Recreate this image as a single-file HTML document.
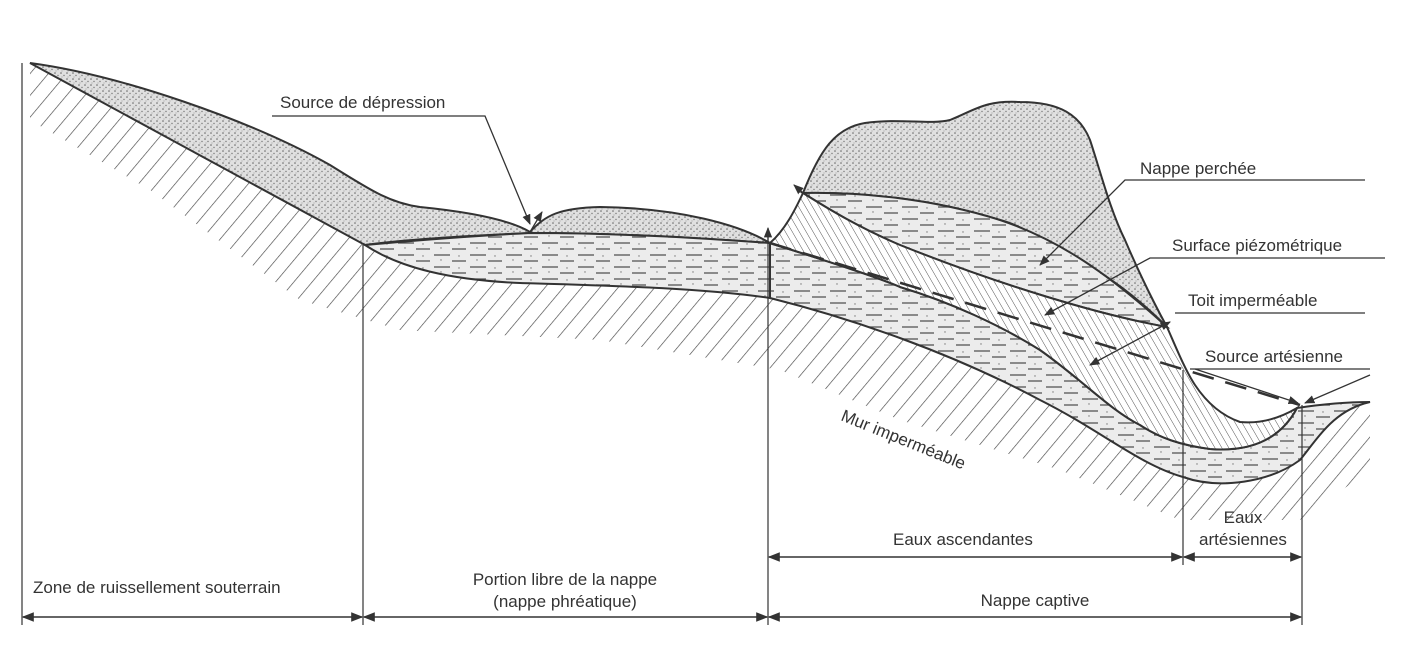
<!DOCTYPE html>
<html><head><meta charset="utf-8"><style>
html,body{margin:0;padding:0;background:#fff}
svg{display:block}
text{font-family:"Liberation Sans",sans-serif;fill:#333;font-size:17px}
</style></head><body>
<svg width="1401" height="647" viewBox="0 0 1401 647" xmlns="http://www.w3.org/2000/svg">
<defs>
<pattern id="st" width="6" height="6" patternUnits="userSpaceOnUse">
<rect width="6" height="6" fill="#e0e0e0"/>
<circle cx="1" cy="1" r="0.8" fill="#666"/><circle cx="4" cy="3.5" r="0.7" fill="#777"/><circle cx="2" cy="5" r="0.5" fill="#888"/>
</pattern>
<pattern id="wa" width="36" height="12" patternUnits="userSpaceOnUse">
<rect width="36" height="12" fill="#ececec"/>
<line x1="2" y1="3" x2="18" y2="3" stroke="#555" stroke-width="1.3"/>
<line x1="20" y1="9" x2="34" y2="9" stroke="#555" stroke-width="1.3"/>
<circle cx="27" cy="4" r="0.7" fill="#777"/><circle cx="9" cy="8" r="0.7" fill="#777"/>
</pattern>
<pattern id="hb" width="6" height="6" patternUnits="userSpaceOnUse" patternTransform="rotate(-30)">
<rect width="6" height="6" fill="#fff"/>
<line x1="0" y1="0" x2="0" y2="6" stroke="#555" stroke-width="1"/>
</pattern>
<pattern id="hg" width="14" height="14" patternUnits="userSpaceOnUse" patternTransform="rotate(40)">
<line x1="0" y1="0" x2="0" y2="14" stroke="#444" stroke-width="1.3"/>
</pattern>
<marker id="ar" viewBox="0 0 10 10" refX="9" refY="5" markerWidth="8" markerHeight="8" orient="auto-start-reverse">
<path d="M0,1 L10,5 L0,9 z" fill="#333"/></marker>
</defs>

<!-- hatched ground below mur -->
<path d="M30,63 L365,245 C400,268 450,280 520,283 C620,286 700,288 770,298 C850,318 950,352 1040,400 C1100,430 1140,465 1183,477 C1220,490 1270,482 1300,460 C1320,435 1335,410 1370,403 L1370,470 L1300,520 L1180,520 L1060,470 L900,420 L780,370 L600,340 L400,330 L300,300 L150,190 L30,120 Z" fill="url(#hg)"/>

<!-- top stipple left -->
<path d="M30,63 C120,75 250,120 330,165 C370,190 390,203 420,207 C470,212 510,220 530,232 C545,215 560,208 600,207 C680,208 740,225 770,243 C700,238 620,233 530,233 C460,236 400,240 365,245 Z" fill="url(#st)" stroke="#333" stroke-width="2"/>
<!-- free water -->
<path d="M365,245 C420,240 470,236 530,233 C620,233 700,238 770,243 L770,298 C700,288 620,286 520,283 C450,280 400,268 365,245 Z" fill="url(#wa)" stroke="#333" stroke-width="2"/>

<!-- hill stipple -->
<path d="M803,193 C820,150 835,128 865,123 C900,118 930,125 950,120 C975,110 985,100 1020,102 C1060,102 1080,115 1090,140 C1100,170 1110,210 1125,240 C1140,275 1155,305 1167,327 C1140,300 1110,275 1060,250 C1040,238 1020,225 1000,220 C930,198 860,192 803,193 Z" fill="url(#st)" stroke="#333" stroke-width="2"/>
<!-- perched water -->
<path d="M803,193 C860,192 930,198 1000,220 C1060,240 1110,275 1167,327 C1100,315 1000,285 900,245 C860,228 830,210 803,193 Z" fill="url(#wa)" stroke="#333" stroke-width="2"/>
<!-- captive water -->
<path d="M770,243 C830,262 880,278 900,287 C950,302 1000,325 1040,350 C1080,378 1110,410 1140,425 C1160,438 1180,445 1210,449 C1250,452 1280,440 1297,408 C1330,403 1350,402 1370,402 C1335,410 1320,435 1300,460 C1270,482 1220,490 1183,477 C1140,465 1100,430 1040,400 C950,352 850,318 770,298 Z" fill="url(#wa)" stroke="#333" stroke-width="2"/>
<!-- toit hatched band -->
<path d="M803,193 C830,210 860,228 900,245 C1000,285 1100,315 1167,327 C1175,345 1185,370 1195,385 C1205,400 1220,415 1240,422 C1260,424 1280,418 1297,408 C1280,440 1250,452 1210,449 C1180,445 1160,438 1140,425 C1110,410 1080,378 1040,350 C1000,325 950,302 900,287 C880,278 830,262 770,243 C785,230 795,210 803,193 Z" fill="url(#hb)" stroke="#333" stroke-width="2"/>

<!-- piezometric dashed -->
<path d="M770,243 L1300,405" stroke="#333" stroke-width="2.5" stroke-dasharray="22,12" fill="none"/>

<!-- verticals -->
<g stroke="#333" stroke-width="1.2">
<line x1="22" y1="63" x2="22" y2="625"/>
<line x1="363" y1="245" x2="363" y2="625"/>
<line x1="768" y1="232" x2="768" y2="625"/>
<line x1="1183" y1="370" x2="1183" y2="565"/>
<line x1="1302" y1="405" x2="1302" y2="625"/>
</g>
<!-- dimension arrows -->
<g stroke="#333" stroke-width="1.5" fill="none" marker-start="url(#ar)" marker-end="url(#ar)">
<line x1="23" y1="617" x2="362" y2="617"/>
<line x1="364" y1="617" x2="767" y2="617"/>
<line x1="769" y1="617" x2="1301" y2="617"/>
<line x1="769" y1="557" x2="1182" y2="557"/>
<line x1="1184" y1="557" x2="1301" y2="557"/>
</g>

<!-- leaders -->
<g stroke="#333" stroke-width="1.3" fill="none">
<polyline points="272,116 485,116 530,224" marker-end="url(#ar)"/>
<polyline points="1365,180 1125,180 1040,265" marker-end="url(#ar)"/>
<polyline points="1385,258 1150,258 1045,315" marker-end="url(#ar)"/>
<polyline points="1365,313 1175,313"/>
<line x1="1170" y1="322" x2="1090" y2="365" marker-start="url(#ar)" marker-end="url(#ar)"/>
<polyline points="1370,369 1190,369"/>
<line x1="1195" y1="369" x2="1298" y2="403" marker-end="url(#ar)"/>
<line x1="1370" y1="375" x2="1305" y2="403" marker-end="url(#ar)"/>
<line x1="530" y1="232" x2="542" y2="212" marker-end="url(#ar)"/>
<line x1="768" y1="243" x2="768" y2="228" marker-end="url(#ar)"/>
<line x1="803" y1="193" x2="794" y2="185" marker-end="url(#ar)"/>
</g>

<text x="280" y="108">Source de dépression</text>
<text x="1140" y="174">Nappe perchée</text>
<text x="1172" y="251">Surface piézométrique</text>
<text x="1188" y="306">Toit imperméable</text>
<text x="1205" y="362">Source artésienne</text>
<text x="840" y="420" transform="rotate(22 840 420)">Mur imperméable</text>
<text x="893" y="545">Eaux ascendantes</text>
<text x="1243" y="523" text-anchor="middle">Eaux</text>
<text x="1243" y="545" text-anchor="middle">artésiennes</text>
<text x="33" y="593">Zone de ruissellement souterrain</text>
<text x="565" y="585" text-anchor="middle">Portion libre de la nappe</text>
<text x="565" y="607" text-anchor="middle">(nappe phréatique)</text>
<text x="1035" y="606" text-anchor="middle">Nappe captive</text>
</svg>
</body></html>
